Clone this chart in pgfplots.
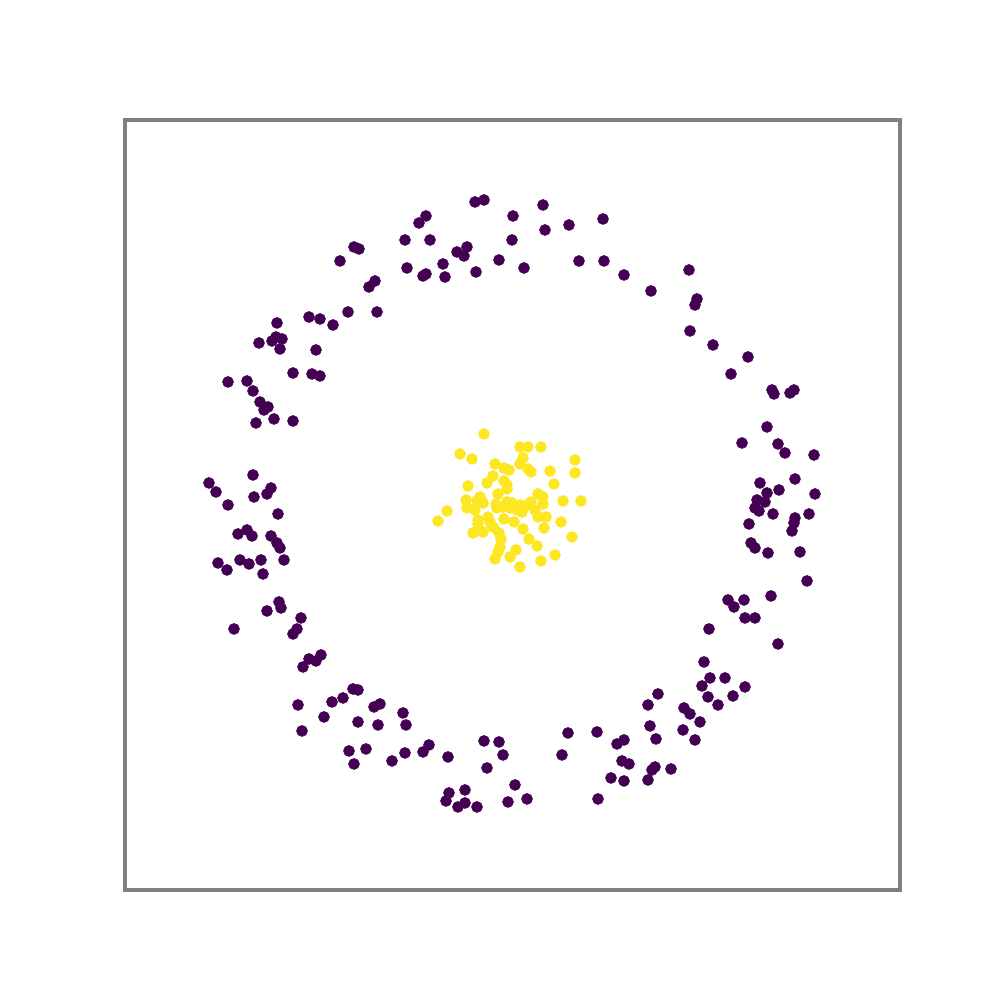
\documentclass[border=0pt]{standalone}
\usepackage{pgfplots}
\pgfplotsset{compat=1.18}
\definecolor{vpurple}{HTML}{440154}
\definecolor{vyellow}{HTML}{FDE725}
\definecolor{framegray}{HTML}{808080}

\begin{document}
\begin{tikzpicture}
\begin{axis}[
    scale only axis,
    width=7.75cm, height=7.7cm,
    xmin=125, xmax=900,
    ymin=120, ymax=890,
    y dir=reverse,
    xtick=\empty, ytick=\empty,
    axis line style={framegray, line width=1pt},
    clip=false,
]
% outer ring (class 0)
\addplot[only marks, mark=*, mark size=1.45pt, mark options={draw=vpurple, fill=vpurple}] coordinates {
(475,202) (484,200) (543,205) (426,216) (419,223) (513,216) (603,219) (569,225)
(545,230) (405,240) (430,240) (512,240) (457,252) (467,247) (464,256) (407,268)
(443,264) (499,260) (524,268) (579,261) (604,261) (423,276) (426,274) (445,277)
(476,272) (624,275)
(354,247) (359,249) (340,261) (375,281) (369,287) (348,312) (377,312) (309,317)
(320,319) (333,325) (277,323) (276,337) (272,341) (282,339) (259,343) (280,349)
(316,350) (293,373) (312,374) (320,376) (228,382) (247,381) (253,391) (260,402)
(268,407)
(264,410) (256,423) (274,419) (293,421) (253,475) (209,483) (216,492) (271,488)
(267,494) (254,497) (228,505) (278,514) (238,534) (247,530) (252,536) (271,536)
(277,543) (280,548) (218,563) (227,570) (240,560) (249,564) (261,560) (284,560)
(263,574) (279,602) (281,608) (267,611) (301,618)
(234,629) (297,629) (293,634) (309,659) (316,661) (321,655) (303,667) (353,689)
(358,690) (343,698) (332,702) (298,705) (374,707) (380,704) (403,713) (324,717)
(358,722) (378,725) (406,725) (302,731) (349,751) (366,749) (405,753) (354,764)
(392,761)
(423,752) (429,745) (448,757) (484,741) (499,742) (503,755) (487,768) (449,793)
(465,790) (446,801) (458,807) (465,803) (477,807) (515,785) (508,802) (527,799)
(568,733) (562,755) (597,732) (617,744) (624,740) (622,761) (611,778) (624,781)
(598,799)
(734,607) (745,618) (755,618) (709,629) (778,644) (704,662) (710,678) (725,678)
(702,686) (745,687) (708,697) (733,696) (718,705) (658,694) (648,705) (684,708)
(690,714) (700,722) (650,726) (683,730) (656,739) (695,740) (629,764) (652,770)
(655,767) (671,769) (648,780)
(767,427) (742,443) (778,444) (785,453) (814,455) (795,479) (760,483) (779,490)
(767,493) (815,494) (757,500) (765,502) (755,508) (759,511) (773,514) (795,518)
(809,514) (794,523) (792,531) (749,524) (751,543) (755,548) (768,553) (800,552)
(807,581) (771,596) (728,600) (744,600)
(689,270) (651,291) (697,299) (695,305) (690,331) (713,345) (748,357) (731,374)
(772,390) (774,394) (790,393) (794,390)
};
% inner cluster (class 1)
\addplot[only marks, mark=*, mark size=1.45pt, mark options={draw=vyellow, fill=vyellow}] coordinates {
(484,434) (460,454) (472,459) (520,447) (528,447) (541,447) (523,458) (520,464)
(528,469) (531,472) (495,464) (504,468) (509,470) (493,476) (487,483) (504,481)
(507,485) (507,489) (468,486) (575,460) (575,473) (550,471) (554,484) (498,494)
(480,497) (466,500) (477,501) (483,503) (538,494) (543,497) (531,502) (563,501)
(581,501) (496,504) (507,502) (512,503) (520,505) (525,506) (543,504) (467,508)
(475,510) (497,508) (503,507) (510,508) (517,510) (522,512) (535,510) (447,511)
(438,521) (488,517) (490,522) (478,520) (478,524) (493,527) (504,519) (514,522)
(538,517) (546,517) (544,528) (561,522) (523,529) (473,533) (483,532) (499,533)
(501,539) (529,539) (537,546) (572,537) (500,547) (498,552) (516,550) (510,557)
(495,559) (555,555) (541,561) (520,567)
};
% white margin around the frame
\path (axis cs:0,0) rectangle (axis cs:1000,1000);
\end{axis}
\end{tikzpicture}
\end{document}
